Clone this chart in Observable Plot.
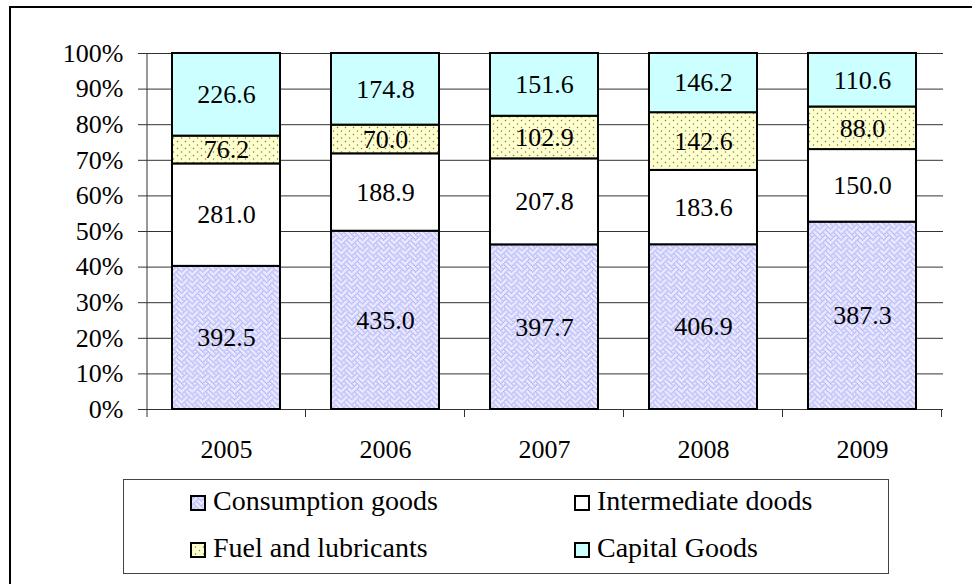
<!DOCTYPE html>
<html><head><meta charset="utf-8">
<script src="https://cdn.jsdelivr.net/npm/d3@7"></script>
<script src="https://cdn.jsdelivr.net/npm/@observablehq/plot@0.6"></script>
<style>
body{margin:0;background:#fff;font-family:"Liberation Serif",serif;color:#000;}
#wrap{position:relative;width:972px;height:584px;overflow:hidden;background:#fff;}
#chart{position:absolute;left:0;top:0;}
#frame{position:absolute;left:9px;top:6px;width:990px;height:620px;border:2px solid #000;box-sizing:border-box;}
#legend{position:absolute;left:123px;top:479px;width:766px;height:95px;border:1.5px solid #444;box-sizing:border-box;}
.sw{position:absolute;width:16px;height:16px;}
.lt{position:absolute;font-size:28px;line-height:1;white-space:nowrap;}
</style></head><body>
<div id="wrap"><div id="chart"></div><div id="legend"></div><div id="frame"></div></div>
<script>
const years = ["2005", "2006", "2007", "2008", "2009"];
const series = ["Consumption goods", "Intermediate doods", "Fuel and lubricants", "Capital Goods"];
const consumption = [392.5, 435.0, 397.7, 406.9, 387.3];
const intermediate = [281.0, 188.9, 207.8, 183.6, 150.0];
const fuel = [76.2, 70.0, 102.9, 142.6, 88.0];
const capital = [226.6, 174.8, 151.6, 146.2, 110.6];
const yTicks = [0, 0.1, 0.2, 0.3, 0.4, 0.5, 0.6, 0.7, 0.8, 0.9, 1.0];
const fills = ["url(#pCons)", "#ffffff", "url(#pFuel)", "#ccffff"];

const seriesValues = [consumption, intermediate, fuel, capital];
const data = series.flatMap((s, i) => years.map((yr, j) => ({year: yr, series: s, value: seriesValues[i][j]})));

const FONT = '"Liberation Serif", serif';
const FS = 26;
const stackOpts = {x: "year", y: "value", z: "series", offset: "normalize"};

const svg = Plot.plot({
  width: 972, height: 470,
  marginLeft: 146, marginRight: 29, marginTop: 53, marginBottom: 61,
  style: {fontFamily: FONT, fontSize: FS + "px", color: "#000", background: "none", overflow: "visible"},
  x: {domain: years, paddingInner: 0.32, paddingOuter: 0.16, label: null},
  y: {domain: [0, 1], label: null},
  color: {domain: series, range: fills},
  marks: [
    Plot.gridY(yTicks, {stroke: "#333", strokeOpacity: 1, strokeWidth: 1}),
    Plot.axisY(yTicks, {tickFormat: d => Math.round(d * 100) + "%", tickSize: 8, tickPadding: 15, label: null, fontSize: FS, stroke: "#333"}),
    Plot.barY(data, Plot.stackY({...stackOpts, fill: "series", stroke: "#000", strokeWidth: 2})),
    Plot.text(data, Plot.stackY({...stackOpts, text: d => d.value.toFixed(1), fontSize: FS, fill: "#000"})),
    Plot.axisX({tickSize: 0, tickPadding: 30, label: null, fontSize: FS})
  ]
});

// pattern definitions
const NS = "http://www.w3.org/2000/svg";
const weaveBits = [0x88, 0x54, 0x22, 0x45, 0x88, 0x14, 0x22, 0x51];
let consRects = "";
weaveBits.forEach((b, r) => { for (let c = 0; c < 8; c++) if (b & (0x80 >> c)) consRects += `<rect x="${c}" y="${r}" width="1" height="1" fill="#a4a4f6"/>`; });
const defs = document.createElementNS(NS, "defs");
defs.innerHTML = `
<pattern id="pCons" width="8" height="8" patternUnits="userSpaceOnUse" patternTransform="scale(1.33)">
  <rect width="8" height="8" fill="#ececff"/>${consRects}
</pattern>
<pattern id="pFuel" width="8" height="7" patternUnits="userSpaceOnUse">
  <rect width="8" height="7" fill="#ffffcc"/>
  <circle cx="1.5" cy="1.5" r="0.75" fill="#777"/>
  <circle cx="5.5" cy="5" r="0.75" fill="#777"/>
</pattern>`;
svg.insertBefore(defs, svg.firstChild);

// axis line and category boundary ticks via Plot's scales
const xs = svg.scale("x"), ys = svg.scale("y");
const y0 = ys.apply(0), y1 = ys.apply(1);
const gap = (xs.step - xs.bandwidth) / 2;
const bounds = years.map(yr => xs.apply(yr) - gap).concat([xs.apply(years[years.length - 1]) + xs.bandwidth + gap]);
const g = d3.select(svg).append("g").attr("stroke", "#333").attr("stroke-width", 1);
g.append("line").attr("x1", bounds[0] + 0.5).attr("x2", bounds[0] + 0.5).attr("y1", y1).attr("y2", y0 + 8);
bounds.slice(1).forEach(b => g.append("line").attr("x1", b).attr("x2", b).attr("y1", y0).attr("y2", y0 + 8));

document.getElementById("chart").appendChild(svg);

// legend
const legend = document.getElementById("legend");
const legendPos = [[66, 15], [450, 15], [66, 62], [450, 62]];
series.forEach((s, i) => {
  const [lx, ly] = legendPos[i];
  const sw = document.createElement("div");
  sw.className = "sw";
  sw.style.left = lx + "px"; sw.style.top = ly + "px";
  sw.innerHTML = `<svg width="16" height="16"><rect x="1" y="1" width="14" height="14" fill="${fills[i]}" stroke="#000" stroke-width="2"/></svg>`;
  legend.appendChild(sw);
  const t = document.createElement("div");
  t.className = "lt";
  t.textContent = s;
  t.style.left = (lx + 23) + "px"; t.style.top = (ly - 8) + "px";
  legend.appendChild(t);
});
</script>
</body></html>
